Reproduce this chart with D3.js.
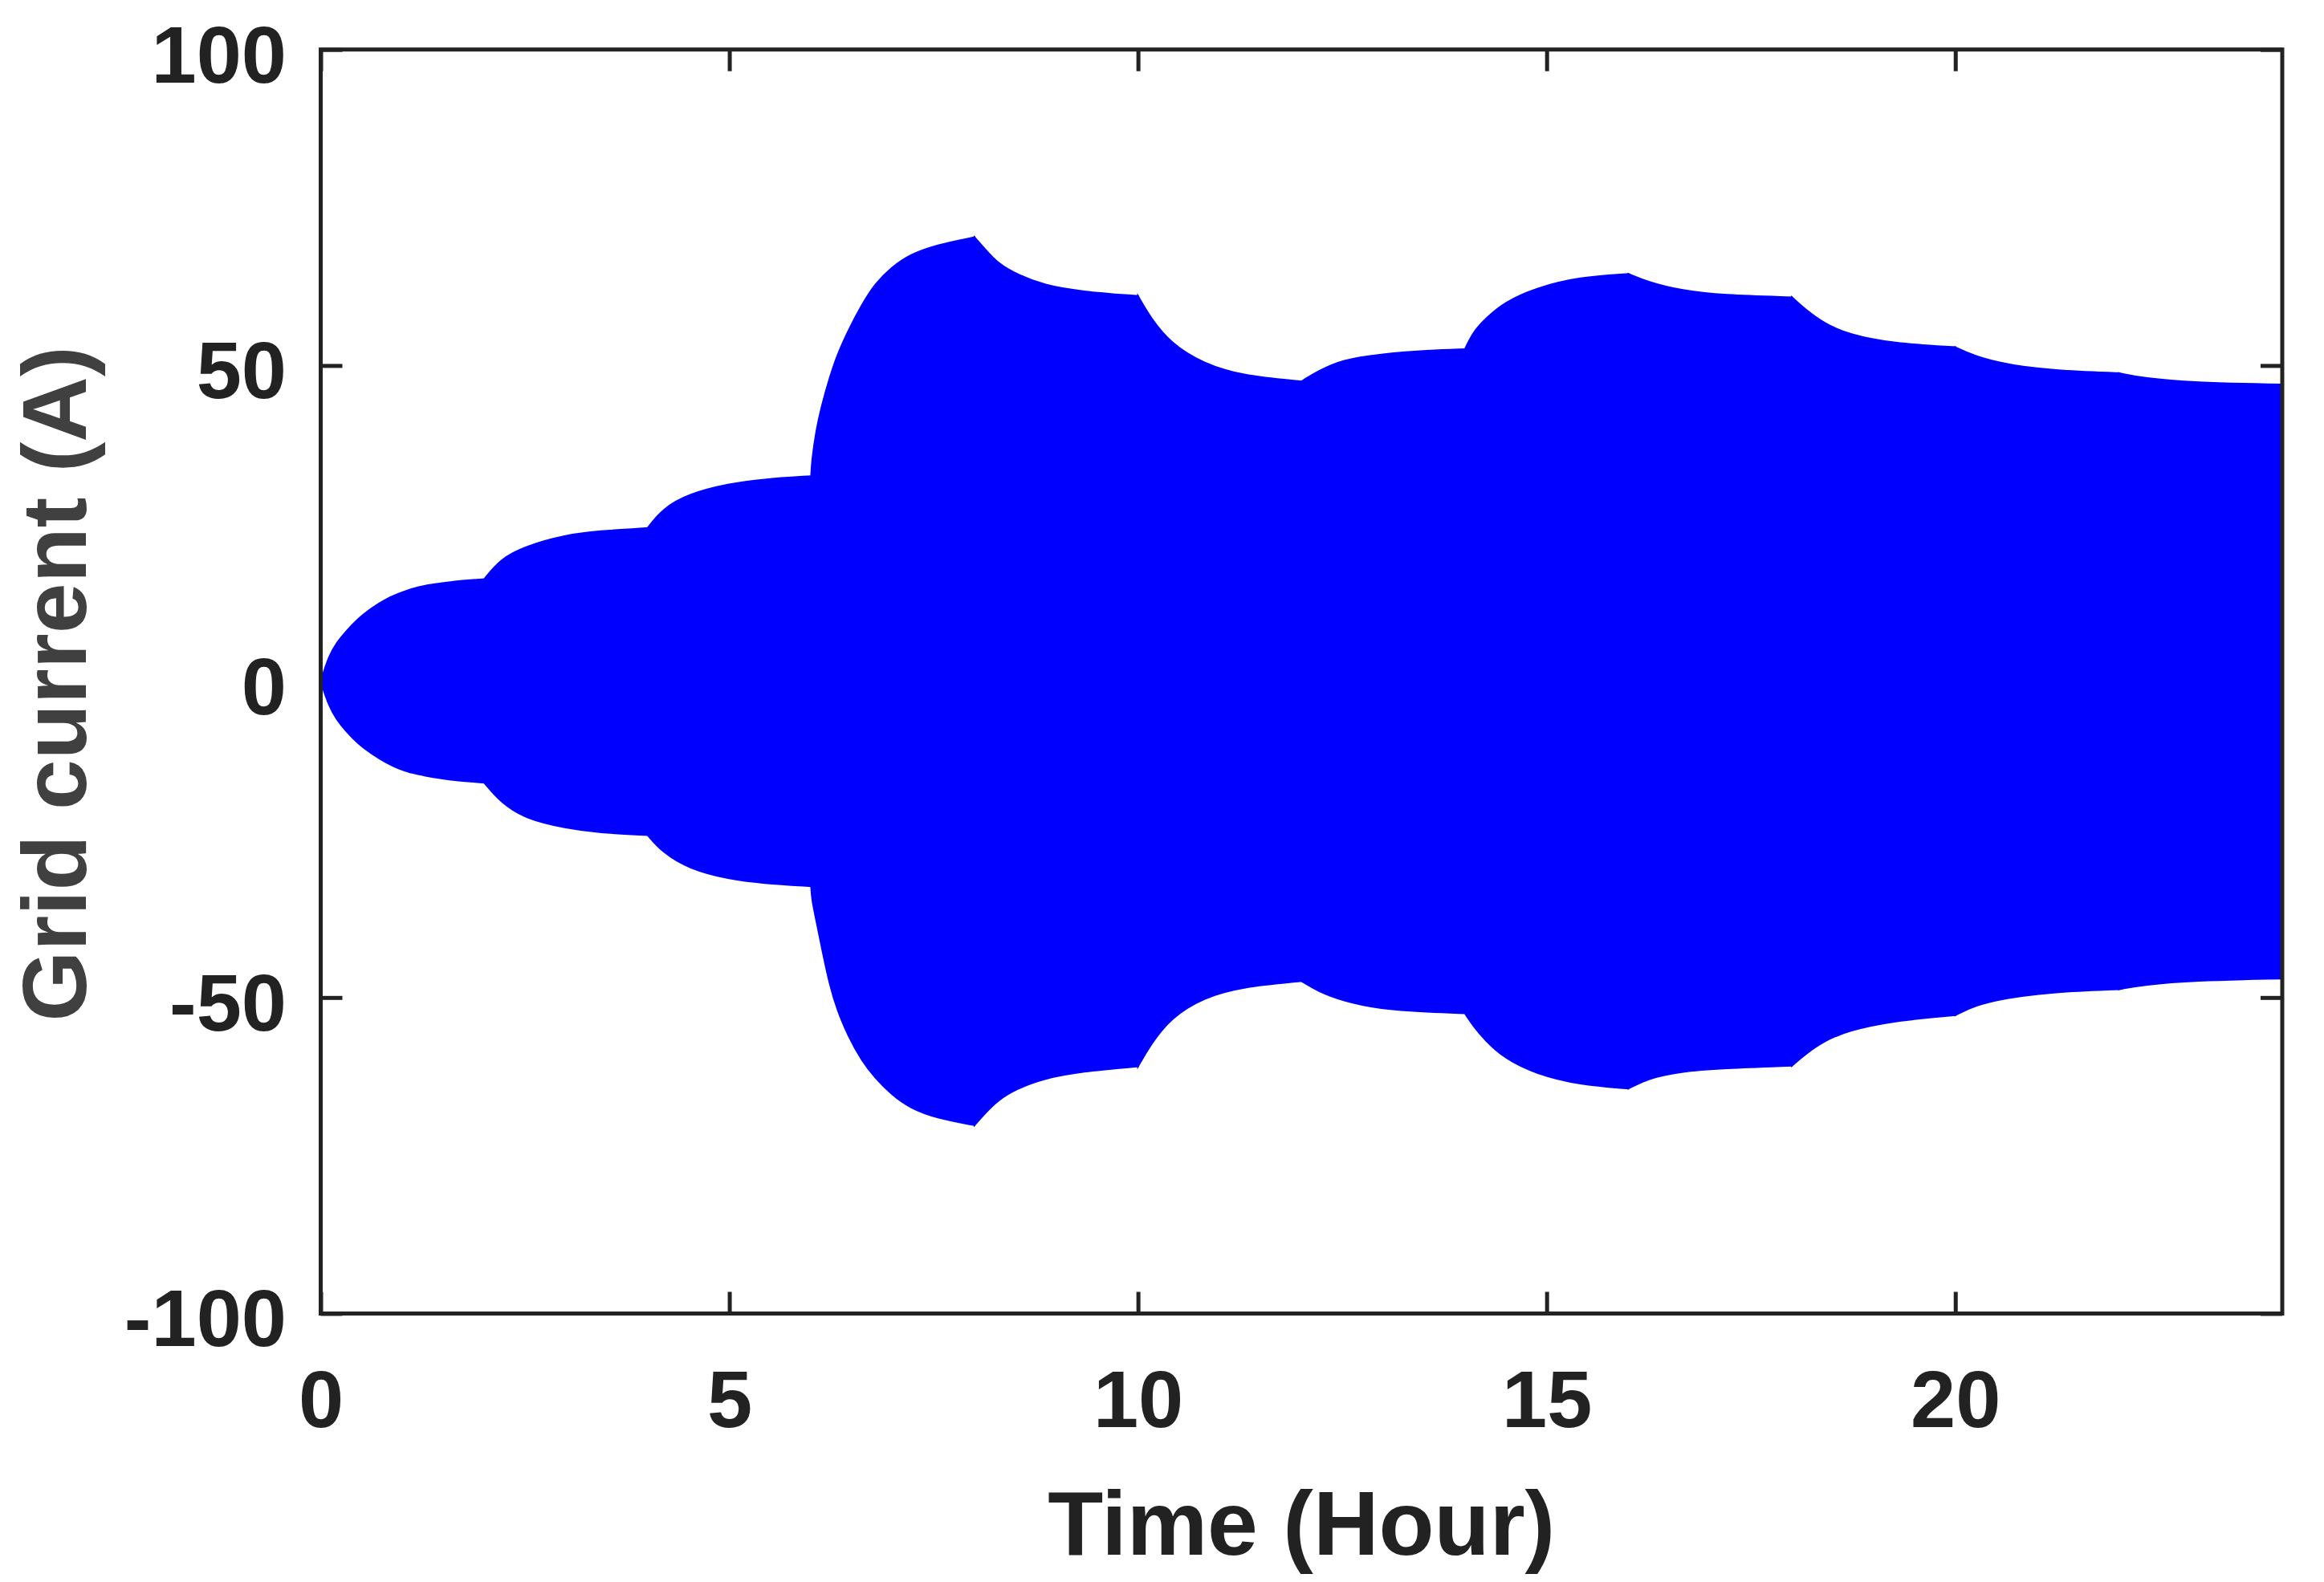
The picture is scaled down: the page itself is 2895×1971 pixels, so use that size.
<!DOCTYPE html>
<html>
<head>
<meta charset="utf-8">
<script src="https://cdn.jsdelivr.net/npm/d3@7"></script>
<style>
  html, body { margin: 0; padding: 0; background: #ffffff; }
  svg { display: block; }
</style>
</head>
<body>
<script>
// ---- Data ----
const timeHours = [
  0, 0.1, 0.2, 0.3, 0.46, 0.63, 0.79, 0.95, 1.12, 1.28, 1.45, 1.67, 2,
  2.2, 2.5, 3.0, 3.4, 4,
  4.18, 4.5, 5.0, 5.4, 6,
  6.01, 6.06, 6.13, 6.23, 6.32, 6.46, 6.62, 6.78, 6.98, 7.21, 7.54, 8,
  8.13, 8.29, 8.52, 8.85, 9.3, 10,
  10.15, 10.4, 10.8, 11.27, 12,
  12.2, 12.5, 12.95, 13.56, 14,
  14.1, 14.25, 14.48, 14.87, 15.4, 16,
  16.24, 16.63, 17.16, 18,
  18.16, 18.4, 18.7, 19.23, 20,
  20.23, 20.6, 21.2, 22,
  22.3, 22.9, 24];

const upperEnvelope = [
  0, 4.1, 6.2, 7.8, 10.0, 11.7, 13.0, 13.9, 14.7, 15.2, 15.5, 15.9, 16.2,
  19.4, 21.4, 23.2, 23.8, 24.3,
  27.3, 29.7, 31.3, 32.0, 32.5,
  35.0, 39.6, 43.7, 48.2, 51.7, 55.7, 59.6, 62.9, 65.5, 67.6, 69.1, 70.3,
  68.4, 66.1, 64.4, 62.7, 61.7, 61.0,
  57.6, 53.5, 50.3, 48.4, 47.5,
  49.1, 50.9, 51.8, 52.4, 52.6,
  55.3, 57.4, 60.0, 62.3, 64.0, 64.5,
  63.2, 61.9, 61.1, 60.8,
  58.9, 56.6, 54.9, 53.5, 52.9,
  51.5, 50.2, 49.2, 48.8,
  48.0, 47.3, 47.0];

const lowerEnvelope = [
  0, -3.9, -6.1, -7.7, -9.9, -11.5, -12.8, -13.8, -14.5, -14.9, -15.3, -15.7, -16.0,
  -19.1, -21.7, -23.2, -23.9, -24.3,
  -27.0, -29.6, -31.3, -31.9, -32.4,
  -34.5, -37.6, -42.1, -48.2, -52.0, -56.3, -60.0, -62.7, -65.3, -67.5, -69.1, -70.2,
  -68.3, -66.2, -64.4, -62.8, -61.7, -60.9,
  -57.5, -53.2, -50.0, -48.3, -47.4,
  -49.0, -50.5, -51.8, -52.3, -52.5,
  -54.5, -56.8, -59.6, -62.1, -63.8, -64.4,
  -62.8, -61.7, -61.2, -60.8,
  -59.0, -56.8, -55.2, -53.7, -52.8,
  -51.3, -50.1, -49.1, -48.7,
  -48.0, -47.3, -47.0];

// hours at which the load steps (envelope has a corner)
const stepHours = [0, 2, 4, 6, 8, 10, 12, 14, 16, 18, 20, 22, 24];

const xTicks = [0, 5, 10, 15, 20];
const yTicks = [-100, -50, 0, 50, 100];
const xDomain = [0, 24];
const yDomain = [-100, 100];
const xLabel = "Time (Hour)";
const yLabel = "Grid current (A)";

// ---- Layout ----
const W = 2895, H = 1971;
const plotLeft = 399.5, plotRight = 2843, plotTop = 61.7, plotBottom = 1636.5;
const ink = "#222222";
const fontFamily = "'Liberation Sans', Arial, Helvetica, sans-serif";

const svg = d3.select("body").append("svg")
  .attr("width", W).attr("height", H)
  .attr("viewBox", `0 0 ${W} ${H}`);

svg.append("rect").attr("width", W).attr("height", H).attr("fill", "#ffffff");

const x = d3.scaleLinear().domain(xDomain).range([plotLeft, plotRight]);
const y = d3.scaleLinear().domain(yDomain).range([plotBottom, plotTop]);

const rows = timeHours.map((t, i) => ({ t, hi: upperEnvelope[i], lo: lowerEnvelope[i] }));
const segments = d3.pairs(stepHours).map(([a, b]) => rows.filter(r => r.t >= a && r.t <= b));

svg.append("clipPath").attr("id", "plotclip")
  .append("rect").attr("x", plotLeft).attr("y", plotTop)
  .attr("width", plotRight - plotLeft).attr("height", plotBottom - plotTop);

const tickLen = 27;

function styleAxis(g, labels) {
  g.select(".domain").remove();
  g.selectAll(".tick line").attr("stroke", ink).attr("stroke-width", 5);
  g.selectAll(".tick text")
    .attr("fill", ink)
    .style("font-family", fontFamily)
    .style("font-weight", "bold")
    .style("font-size", "101px");
  if (!labels) g.selectAll(".tick text").remove();
}

const gx = svg.append("g").attr("transform", `translate(0,${plotBottom})`)
  .call(d3.axisBottom(x).tickValues(xTicks).tickSize(-tickLen).tickPadding(70).tickFormat(d3.format("d")));
styleAxis(gx, true);

const gxTop = svg.append("g").attr("transform", `translate(0,${plotTop})`)
  .call(d3.axisTop(x).tickValues(xTicks).tickSize(-tickLen).tickFormat(""));
styleAxis(gxTop, false);

const gy = svg.append("g").attr("transform", `translate(${plotLeft},0)`)
  .call(d3.axisLeft(y).tickValues(yTicks).tickSize(-tickLen).tickPadding(42.5).tickFormat(d => String(d)));
styleAxis(gy, true);
gy.selectAll(".tick text").attr("dy", "0.40em");

const gyRight = svg.append("g").attr("transform", `translate(${plotRight},0)`)
  .call(d3.axisRight(y).tickValues(yTicks).tickSize(-tickLen).tickFormat(""));
styleAxis(gyRight, false);

// filled oscillation envelope, one smooth piece per load step
const area = d3.area()
  .x(d => x(d.t))
  .y0(d => y(d.lo))
  .y1(d => y(d.hi))
  .curve(d3.curveBasis);

svg.append("g")
  .attr("clip-path", "url(#plotclip)")
  .selectAll("path")
  .data(segments)
  .join("path")
  .attr("fill", "#0000ff")
  .attr("stroke", "#0000ff")
  .attr("stroke-width", 2)
  .attr("stroke-linejoin", "miter")
  .attr("d", area);

// frame
svg.append("rect")
  .attr("x", plotLeft).attr("y", plotTop)
  .attr("width", plotRight - plotLeft).attr("height", plotBottom - plotTop)
  .attr("fill", "none").attr("stroke", ink).attr("stroke-width", 5);

// axis titles
svg.append("text")
  .attr("x", (plotLeft + plotRight) / 2).attr("y", 1936.7)
  .attr("text-anchor", "middle")
  .attr("fill", ink)
  .style("font-family", fontFamily).style("font-weight", "bold").style("font-size", "113px")
  .text(xLabel);

svg.append("text")
  .attr("transform", `translate(106.7,${(plotTop + plotBottom) / 2 + 3}) rotate(-90)`)
  .attr("text-anchor", "middle")
  .attr("fill", "#404040")
  .style("font-family", fontFamily).style("font-weight", "bold").style("font-size", "113px")
  .text(yLabel);
</script>
</body>
</html>
